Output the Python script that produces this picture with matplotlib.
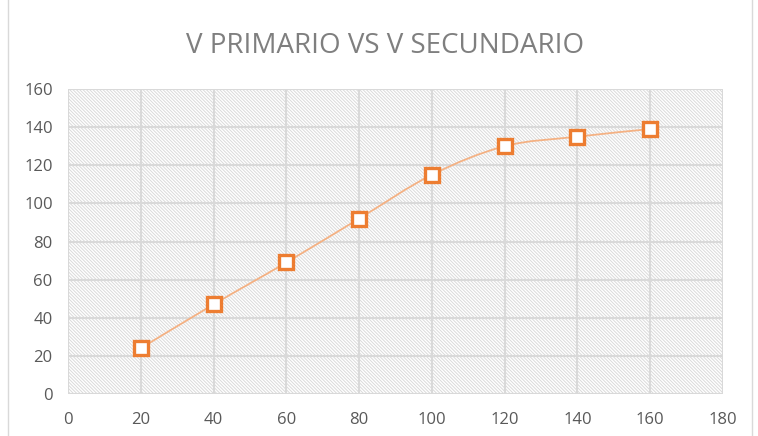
import matplotlib
matplotlib.use("Agg")
import matplotlib.pyplot as plt
from matplotlib.path import Path
from matplotlib.patches import PathPatch
from matplotlib.lines import Line2D
import numpy as np

v_primario = [20, 40, 60, 80, 100, 120, 140, 160]
v_secundario = [24, 47, 69, 92, 115, 130, 135, 139]
x_ticks = [0, 20, 40, 60, 80, 100, 120, 140, 160, 180]
y_ticks = [0, 20, 40, 60, 80, 100, 120, 140, 160]
title = "V PRIMARIO VS V SECUNDARIO"

plt.rcParams['hatch.color'] = '#dadada'
plt.rcParams['hatch.linewidth'] = 0.7
plt.rcParams['font.family'] = ['Open Sans', 'DejaVu Sans']

fig = plt.figure(figsize=(7.58, 4.36), dpi=100)
ax = fig.add_axes([68/758, 1-394/436, (723-68)/758, (394-89)/436])
ax.patch.set_facecolor('white')
ax.patch.set_hatch('\\' * 10)
ax.patch.set_edgecolor('#dadada')

ax.set_xlim(0, 180)
ax.set_ylim(0, 160)
ax.set_xticks(x_ticks)
ax.set_yticks(y_ticks)
ax.grid(True, color='#d9d9d9', linewidth=1.5)
ax.set_axisbelow(True)
for s in ax.spines.values():
    s.set_visible(False)
ax.tick_params(length=0, colors='#595959', labelsize=12)
ax.tick_params(axis='x', pad=13)
ax.tick_params(axis='y', pad=11)

# smooth curve through data points (Catmull-Rom converted to Bezier)
xs = np.array(v_primario, float)
ys = np.array(v_secundario, float)
pts = np.column_stack([xs, ys])
verts = [pts[0]]
codes = [Path.MOVETO]
n = len(pts)
for i in range(n - 1):
    p0 = pts[i - 1] if i > 0 else pts[i]
    p1 = pts[i]
    p2 = pts[i + 1]
    p3 = pts[i + 2] if i + 2 < n else pts[i + 1]
    c1 = p1 + (p2 - p0) / 6.0
    c2 = p2 - (p3 - p1) / 6.0
    verts += [c1, c2, p2]
    codes += [Path.CURVE4] * 3
ax.add_patch(PathPatch(Path(verts, codes), facecolor='none', edgecolor='#F4B183', linewidth=1.3, zorder=3))
ax.plot(xs, ys, linestyle='none', marker='s', markersize=9.5, markerfacecolor='white',
        markeredgecolor='#ED7D31', markeredgewidth=2.4, zorder=4)

fig.text(385/758, 1-46/436, title, ha='center', va='center', fontsize=20, color='#7f7f7f')

# chart border
fig.add_artist(Line2D([8/758, 8/758], [0, 1], transform=fig.transFigure, color='#d9d9d9', linewidth=1))
fig.add_artist(Line2D([752/758, 752/758], [0, 1], transform=fig.transFigure, color='#d9d9d9', linewidth=1))

fig.savefig('out.png', dpi=100)
